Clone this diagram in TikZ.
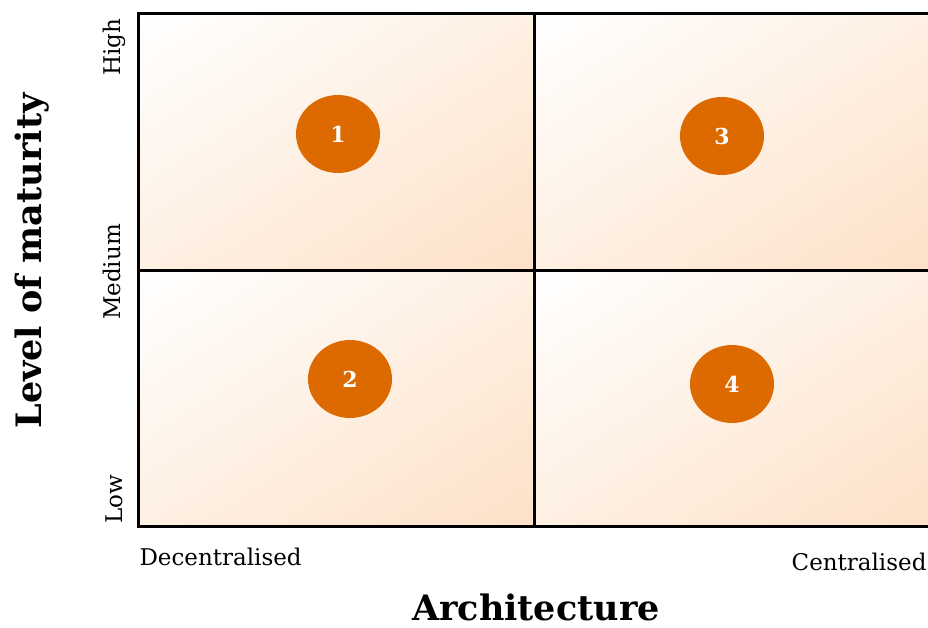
\documentclass[tikz,border=0pt]{standalone}
\usepackage{fontspec}
\setmainfont{DejaVu Serif}
\usetikzlibrary{shapes.geometric,shadings}
\definecolor{peach}{HTML}{FDE1C8}
\definecolor{peachmid}{HTML}{FEF0E3}
\definecolor{dotfill}{HTML}{DD6A00}
\tikzset{
  quad/.style={upper left=white, lower right=peach, upper right=peachmid, lower left=peachmid},
  gridline/.style={line width=3pt},
  dot/.style={ellipse, fill=dotfill, minimum width=84pt, minimum height=78pt, inner sep=0pt,
    text=white, font=\fontsize{22}{22}\selectfont\bfseries},
  level/.style={rotate=90, font=\fontsize{23}{23}\selectfont},
  endlabel/.style={font=\fontsize{23}{23}\selectfont},
  axistitle/.style={font=\fontsize{35}{35}\selectfont\bfseries, inner sep=1pt}
}
\begin{document}
\begin{tikzpicture}[x=1pt,y=-1pt]
  \useasboundingbox (0,0) rectangle (928,628);
  % four shaded quadrants
  \shade[quad] (138,14) rectangle (534,270);
  \shade[quad] (534,14) rectangle (930,270);
  \shade[quad] (138,270) rectangle (534,526);
  \shade[quad] (534,270) rectangle (930,526);
  % frame and dividers
  \draw[gridline] (930,14) -- (138,14) -- (138,526) -- (930,526);
  \draw[gridline] (534,14) -- (534,526);
  \draw[gridline] (138,270) -- (930,270);
  % numbered markers
  \node[dot] (q1) at (338,134) {1};
  \node[dot] (q3) at (722,136) {3};
  \node[dot] (q2) at (350,379) {2};
  \node[dot] (q4) at (732,384) {4};
  % vertical scale
  \node[level] (high) at (114,47) {High};
  \node[level] (medium) at (112,272) {Medium};
  \node[level] (low) at (114,499) {Low};
  % horizontal scale
  \node[endlabel, anchor=west] (dec) at (136,557) {Decentralised};
  \node[endlabel, anchor=east] (cen) at (930,562) {Centralised};
  % axis titles
  \node[axistitle, rotate=90] (ytitle) at (32,261) {Level of maturity};
  \node[axistitle] (xtitle) at (536,607) {Architecture};
\end{tikzpicture}
\end{document}
